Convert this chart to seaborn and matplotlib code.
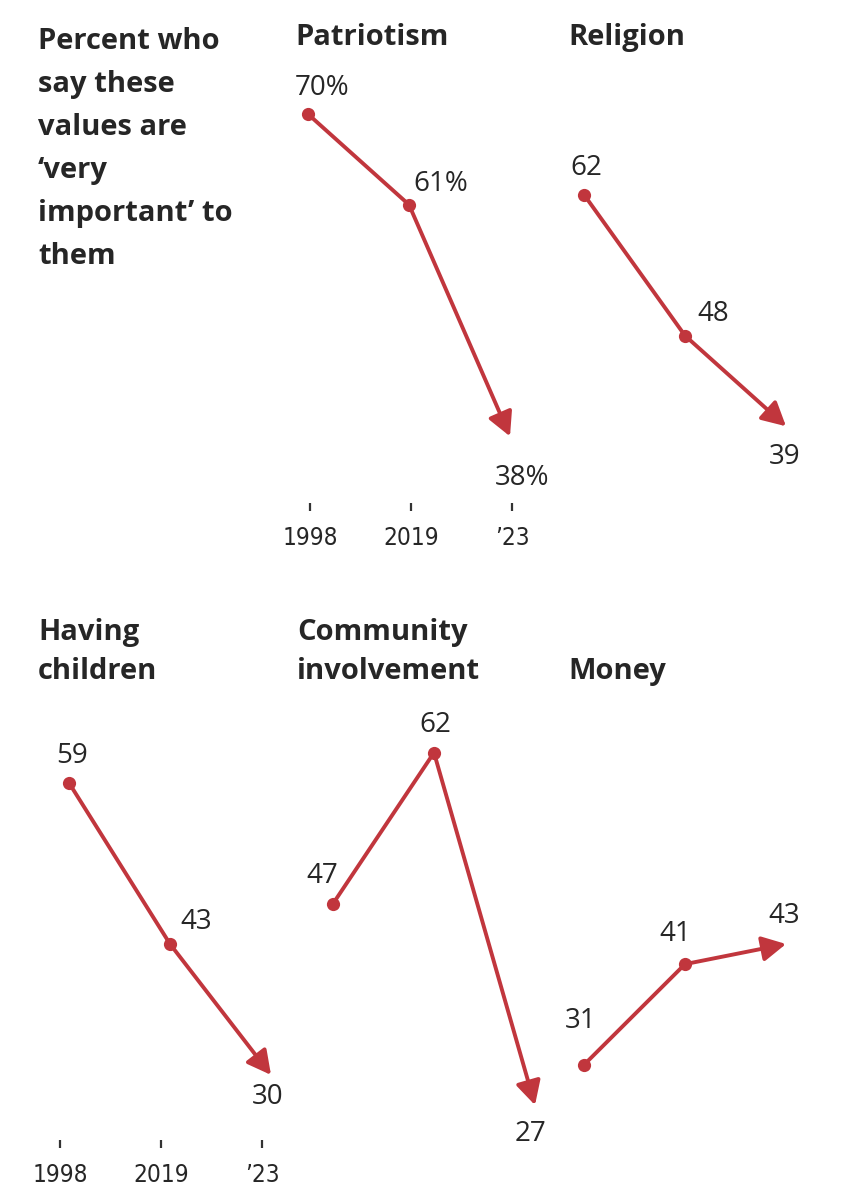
import matplotlib
matplotlib.use("Agg")
import matplotlib.pyplot as plt
import pandas as pd
import seaborn as sns

# ---------------- data ----------------
years = ["1998", "2019", "\u201923"]
patriotism = [70, 61, 38]
religion = [62, 48, 39]
having_children = [59, 43, 30]
community = [47, 62, 27]
money = [31, 41, 43]
patriotism_labels = ["70%", "61%", "38%"]
intro_lines = ["Percent who", "say these", "values are", "\u2018very", "important\u2019 to", "them"]

# ---------------- style / layout ----------------
sns.set_theme(style="white")
plt.rcParams["font.family"] = ["Open Sans", "DejaVu Sans"]

W, H, DPI = 841, 1200, 100
PX_X = 101.0      # pixels per year step
PX_Y = 10.07      # pixels per percentage point
RED = "#C1363D"
DARK = "#262626"

fig = plt.figure(figsize=(W / DPI, H / DPI), dpi=DPI)
fig.patch.set_facecolor("white")


def add_panel(x0_px, yzero_px, ymin=20, ymax=80):
    left = x0_px - 0.5 * PX_X
    bottom_px = yzero_px - ymin * PX_Y
    ax = fig.add_axes([left / W, 1 - bottom_px / H, 3 * PX_X / W, (ymax - ymin) * PX_Y / H])
    ax.set_xlim(-0.5, 2.5)
    ax.set_ylim(ymin, ymax)
    ax.set_axis_off()
    ax.patch.set_alpha(0)
    return ax


def draw_series(ax, values, labels, offsets):
    df = pd.DataFrame({"x": [0, 1], "y": values[:2]})
    sns.lineplot(data=df, x="x", y="y", ax=ax, color=RED, linewidth=2.8,
                 marker="o", markersize=9.5, markeredgewidth=0, clip_on=False)
    ax.annotate("", xy=(2, values[2]), xytext=(1, values[1]),
                arrowprops=dict(arrowstyle="-|>,head_length=0.72,head_width=0.38",
                                mutation_scale=20, color=RED, lw=2.8,
                                shrinkA=0, shrinkB=0),
                annotation_clip=False)
    for i, (v, lab, off) in enumerate(zip(values, labels, offsets)):
        ax.annotate(lab, xy=(i, v), xytext=off, textcoords="offset pixels",
                    ha="center", va="baseline", fontsize=20, color=DARK,
                    fontweight="normal", annotation_clip=False)
    ax.set_xlabel("")
    ax.set_ylabel("")


def add_year_axis(x0_px, y_px):
    left = x0_px - 0.5 * PX_X
    ax = fig.add_axes([left / W, 1 - y_px / H, 3 * PX_X / W, 0.0005])
    ax.set_xlim(-0.5, 2.5)
    ax.patch.set_alpha(0)
    sns.despine(ax=ax, left=True, bottom=True)
    ax.set_yticks([])
    ax.set_xticks([0, 1, 2])
    ax.set_xticklabels(years, fontfamily=["DejaVu Sans"], fontstretch="condensed",
                       fontweight="light")
    ax.tick_params(axis="x", direction="in", length=6, width=1.6, color="#333333",
                   pad=11, labelsize=17.5, labelcolor=DARK, bottom=True)


def title(x_px, baseline_px, lines, spacing=39):
    for k, line in enumerate(lines):
        fig.text(x_px / W, 1 - (baseline_px + k * spacing) / H, line, ha="left",
                 va="baseline", fontsize=21, fontweight="bold", color=DARK)


# intro text
title(38, 49, intro_lines, spacing=43)

# top row
ax = add_panel(308, 819)
draw_series(ax, patriotism, patriotism_labels, [(14, 19), (32, 13.5), (12, -48.5)])
title(295, 45, ["Patriotism"])
add_year_axis(310, 511)

ax = add_panel(584, 819)
draw_series(ax, religion, [str(v) for v in religion], [(2, 20), (28.5, 15), (-1.5, -37.5)])
title(568, 45, ["Religion"])

# bottom row
ax = add_panel(69, 1377)
draw_series(ax, having_children, [str(v) for v in having_children],
            [(3.5, 19.5), (26, 15), (-3.5, -29.5)])
title(38, 640, ["Having", "children"])
add_year_axis(60, 1148)

ax = add_panel(333, 1377)
draw_series(ax, community, [str(v) for v in community],
            [(-10.5, 20.5), (1.5, 20.5), (-4.5, -35.5)])
title(297, 640, ["Community", "involvement"])

ax = add_panel(584, 1377)
draw_series(ax, money, [str(v) for v in money], [(-3, 37), (-9.5, 23), (-2, 21)])
title(568, 679, ["Money"])

fig.savefig("out.png", dpi=DPI, facecolor="white")
